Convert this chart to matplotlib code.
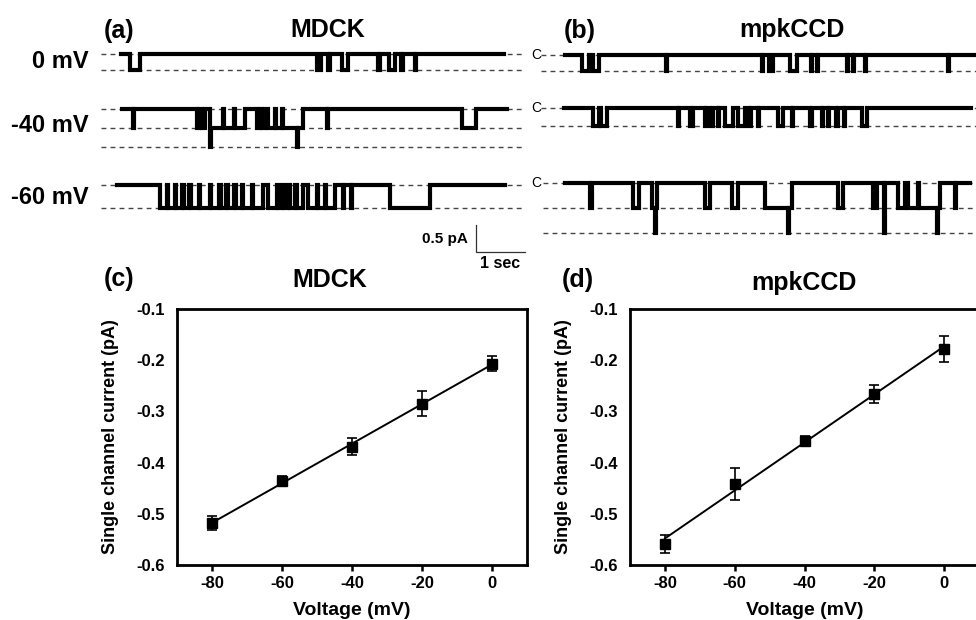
import numpy as np
import matplotlib
matplotlib.use("Agg")
import matplotlib.pyplot as plt

plt.rcParams['font.family'] = ['Liberation Sans', 'DejaVu Sans']
plt.rcParams['font.weight'] = 'bold'
plt.rcParams['axes.labelweight'] = 'bold'

# ---------------- data: I-V relations ----------------
voltage = [-80, -60, -40, -20, 0]
mdck_current = [-0.518, -0.436, -0.369, -0.285, -0.207]
mdck_err = [0.013, 0.010, 0.017, 0.024, 0.015]
mpk_current = [-0.559, -0.442, -0.358, -0.266, -0.178]
mpk_err = [0.017, 0.031, 0.010, 0.017, 0.025]
x_ticks = [-80, -60, -40, -20, 0]
y_ticks = [-0.6, -0.5, -0.4, -0.3, -0.2, -0.1]

# ---------------- data: single-channel traces (transition times s, open channels) ----------------
trace_labels = ["0 mV", "-40 mV", "-60 mV"]
a0_t = [0, 0.18, 0.39, 4.01, 4.09, 4.23, 4.27, 4.50, 4.64, 5.25, 5.29, 5.46, 5.59, 5.71, 5.76, 6.00, 6.03]
a0_n = [0, 1, 0, 1, 0, 1, 0, 1, 0, 1, 0, 1, 0, 1, 0, 1, 0]
a0_dur, a0_amp = 7.82, 0.30

a1_t = [0, 0.24, 0.26, 1.53, 1.58, 1.63, 1.69, 1.80, 1.81, 1.83, 2.06, 2.08, 2.30, 2.32, 2.52, 2.76,
        2.82, 2.86, 2.92, 2.99, 3.13, 3.15, 3.27, 3.29, 3.57, 3.59, 3.69, 4.18, 4.21, 6.94, 7.24]
a1_n = [0, 1, 0, 1, 0, 1, 0, 1, 2, 1, 0, 1, 0, 1, 0, 1, 0, 1, 0, 1, 0, 1, 0, 1, 2, 1, 0, 1, 0, 1, 0]
a1_dur, a1_amp = 7.86, 0.35

a2_t = [0, 0.88, 1.02, 1.05, 1.19, 1.22, 1.34, 1.37, 1.48, 1.51, 1.67, 1.70, 1.90, 1.93, 2.09, 2.12,
        2.24, 2.27, 2.40, 2.43, 2.55, 2.58, 2.76, 2.79, 2.99, 3.09, 3.27, 3.30, 3.38, 3.41, 3.50, 3.53,
        3.64, 3.67, 3.81, 3.91, 4.08, 4.11, 4.25, 4.28, 4.46, 4.62, 4.64, 4.79, 4.81, 5.58, 6.39]
a2_n = [0, 1, 0, 1, 0, 1, 0, 1, 0, 1, 0, 1, 0, 1, 0, 1,
        0, 1, 0, 1, 0, 1, 0, 1, 0, 1, 0, 1, 0, 1, 0, 1,
        0, 1, 0, 1, 0, 1, 0, 1, 0, 1, 0, 1, 0, 1, 0]
a2_dur, a2_amp = 7.92, 0.43

b0_t = [0, 0.34, 0.48, 0.58, 0.69, 2.07, 2.09, 4.02, 4.04, 4.17, 4.25, 4.59, 4.73, 5.03, 5.05, 5.14,
        5.16, 5.75, 5.77, 5.88, 5.90, 6.12, 6.14, 7.82, 7.84]
b0_n = [0, 1, 0, 1, 0, 1, 0, 1, 0, 1, 0, 1, 0, 1, 0, 1, 0, 1, 0, 1, 0, 1, 0, 1, 0]
b0_dur, b0_amp = 8.45, 0.30

b1_t = [0, 0.59, 0.70, 0.74, 0.87, 2.33, 2.35, 2.57, 2.63, 2.87, 2.89, 2.97, 3.04, 3.14, 3.16, 3.28,
        3.45, 3.55, 3.69, 3.76, 3.82, 3.96, 3.98, 4.37, 4.47, 4.64, 4.66, 5.01, 5.05, 5.25, 5.27, 5.39,
        5.41, 5.54, 5.58, 5.70, 5.73, 6.07, 6.17]
b1_n = [0, 1, 0, 1, 0, 1, 0, 1, 0, 1, 0, 1, 0, 1, 0, 1,
        0, 1, 0, 1, 0, 1, 0, 1, 0, 1, 0, 1, 0, 1, 0, 1,
        0, 1, 0, 1, 0, 1, 0]
b1_dur, b1_amp = 8.31, 0.33

b2_t = [0, 0.51, 0.56, 1.39, 1.50, 1.77, 1.83, 1.86, 1.87, 2.86, 2.96, 3.40, 3.54, 4.08, 4.56, 4.58,
        4.63, 5.58, 5.68, 6.29, 6.36, 6.50, 6.52, 6.54, 6.80, 6.94, 7.01, 7.20, 7.22, 7.60, 7.62, 7.65,
        7.96, 7.98]
b2_n = [0, 1, 0, 1, 0, 1, 2, 1, 0, 1, 0, 1, 0, 1, 2, 1,
        0, 1, 0, 1, 0, 1, 2, 0, 1, 0, 1, 0, 1, 2, 1, 0,
        1, 0]
b2_dur, b2_amp = 8.27, 0.46

scale_time = 1.0   # s
scale_amp = 0.5    # pA

# ---------------- layout helpers ----------------
W, H = 976, 620
PX_S = 49.0   # pixels per second
PX_PA = 54.0  # pixels per pA

fig = plt.figure(figsize=(W / 100, H / 100), dpi=100)


def px_axes(left, top, right, bottom):
    return fig.add_axes([left / W, 1 - bottom / H, (right - left) / W, (bottom - top) / H])


def ftext(x, y, s, **kw):
    fig.text(x / W, 1 - y / H, s, **kw)


def trace(x0, x1, start, base, t, n, dur, amp, nlevels, top=None, bottom=None):
    top = base - 20 if top is None else top
    bottom = base + 65 if bottom is None else bottom
    ax = px_axes(x0, top, x1, bottom)
    ax.set_xlim((x0 - start) / PX_S, (x1 - start) / PX_S)
    ax.set_ylim(-(bottom - base) / PX_PA, (base - top) / PX_PA)
    ax.axis('off')
    xl = ax.get_xlim()
    for k in range(nlevels):
        ax.hlines(-amp * k, xl[0], xl[1], colors='#444444', linewidth=1.0,
                  linestyles=(0, (3.5, 3.0)), zorder=1)
    tt = np.array(list(t) + [dur])
    nn = np.array(list(n) + [n[-1]], dtype=float)
    ax.plot(tt, -amp * nn, drawstyle='steps-post', color='black', lw=3.0,
            solid_joinstyle='miter', zorder=2)
    return ax


# ---------------- panel (a) ----------------
ftext(119, 31, "(a)", fontsize=18, ha='center', va='center')
ftext(328, 30, "MDCK", fontsize=18, ha='center', va='center')
trace(101, 525, 121, 53.7, a0_t, a0_n, a0_dur, a0_amp, 2)
trace(101, 525, 121.7, 109, a1_t, a1_n, a1_dur, a1_amp, 3)
ax_a2 = trace(101, 525, 116.7, 185, a2_t, a2_n, a2_dur, a2_amp, 2)
for lab, y in zip(trace_labels, [61, 125, 197]):
    ftext(89, y, lab, fontsize=17, ha='right', va='center')

# scale bar
tc = (476 - 116.7) / PX_S
yc = -(252 - 185) / PX_PA
ax_a2.plot([tc, tc, tc + scale_time], [yc + scale_amp, yc, yc], color='#333333', lw=0.9,
           clip_on=False, solid_joinstyle='miter')
ax_a2.annotate(f"{scale_amp} pA", (tc, yc + scale_amp / 2), xytext=(-6, 0), textcoords='offset points',
               ha='right', va='center', fontsize=11, annotation_clip=False)
ax_a2.annotate(f"{scale_time:g} sec", (tc + scale_time / 2, yc), xytext=(0, -3), textcoords='offset points',
               ha='center', va='top', fontsize=11.5, annotation_clip=False)

# ---------------- panel (b) ----------------
ftext(580, 31, "(b)", fontsize=18, ha='center', va='center')
ftext(792, 30, "mpkCCD", fontsize=18, ha='center', va='center')
trace(541, 976, 565, 55, b0_t, b0_n, b0_dur, b0_amp, 2)
trace(541, 976, 564.3, 107.7, b1_t, b1_n, b1_dur, b1_amp, 2)
trace(543, 976, 565, 183.3, b2_t, b2_n, b2_dur, b2_amp, 3)
for y in [55, 107.7, 183.3]:
    ftext(536, y, "C", fontsize=10, fontweight='normal', ha='center', va='center')

# ---------------- panels (c) and (d) ----------------
def iv_panel(rect, cur, err, letter, title, letter_xy, title_xy):
    ax = px_axes(*rect)
    ax.errorbar(voltage, cur, yerr=err, fmt='s', color='black', ms=7.5, capsize=3.5,
                elinewidth=1.2, capthick=1.2, zorder=3)
    p = np.polyfit(voltage, cur, 1)
    xs = np.array([voltage[0], voltage[-1]])
    ax.plot(xs, np.polyval(p, xs), color='black', lw=1.4, zorder=2)
    ax.set_xlim(-90, 10)
    ax.set_ylim(-0.6, -0.1)
    ax.set_xticks(x_ticks)
    ax.set_xticklabels([str(v) for v in x_ticks])
    ax.set_yticks(y_ticks)
    ax.set_yticklabels([f"{v:.1f}" for v in y_ticks])
    ax.tick_params(axis='x', direction='out', length=4, width=1.8, labelsize=12, pad=4)
    ax.tick_params(axis='y', length=0, labelsize=12, pad=9)
    for s in ax.spines.values():
        s.set_linewidth(2.0)
    ax.set_xlabel("Voltage (mV)", fontsize=14, labelpad=8, fontweight='bold')
    ax.set_ylabel("Single channel current (pA)", fontsize=13, labelpad=12, fontweight='bold')
    ftext(*letter_xy, letter, fontsize=18, ha='center', va='center')
    ftext(*title_xy, title, fontsize=18, ha='center', va='center')
    return ax


iv_panel((177, 309, 527, 565), mdck_current, mdck_err, "(c)", "MDCK", (119, 279), (330, 280))
iv_panel((630, 309, 979, 565), mpk_current, mpk_err, "(d)", "mpkCCD", (578, 280), (804, 283))

fig.savefig("out.png", dpi=100)
